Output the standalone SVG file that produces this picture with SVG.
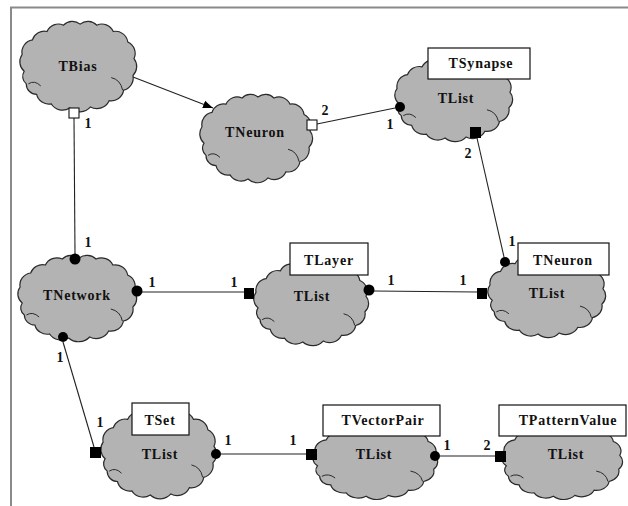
<svg xmlns="http://www.w3.org/2000/svg" xmlns:xlink="http://www.w3.org/1999/xlink" width="628" height="506" viewBox="0 0 628 506">
<style>
.cl{fill:#b3b3b3;stroke:#2a2a2a;stroke-width:1.2;vector-effect:non-scaling-stroke}
.curl{fill:none;stroke:#2a2a2a;stroke-width:1;vector-effect:non-scaling-stroke}
.box{fill:#fff;stroke:#111;stroke-width:1.2}
text{font-family:'Liberation Serif','Times New Roman',serif;font-weight:bold;font-size:14px;fill:#111;text-anchor:middle}
.t{letter-spacing:0.8px}
.ln{stroke:#222;stroke-width:1.1;fill:none}
.ws{fill:#fff;stroke:#111;stroke-width:1.1}
.bs{fill:#000}
.frame{stroke:#8a8a8a;stroke-width:2;fill:none}
</style>
<defs>
<g id="cloud">
<path class="cl" d="M8,50 A12,12 0 0 1 6,34 A12,12 0 0 1 16,20 A12,12 0 0 1 30,12 A12,12 0 0 1 46,6 A12,12 0 0 1 62,5 A12,12 0 0 1 78,6 A12,12 0 0 1 94,12 A12,12 0 0 1 108,22 A12,12 0 0 1 114,38 A12,12 0 0 1 113,54 A12,12 0 0 1 104,68 A12,12 0 0 1 90,78 A13,13 0 0 1 72,84 A14,14 0 0 1 52,85 A13,13 0 0 1 34,81 A12,12 0 0 1 20,72 A10,10 0 0 1 10,62 A9,9 0 0 1 8,50 Z"/>
<path class="curl" d="M92,56 Q101,58 103,68"/>
<path class="curl" d="M12,62 Q18,58 24,64"/>
</g>
<marker id="arr" viewBox="0 0 10 10" refX="10" refY="5" markerWidth="10" markerHeight="10" markerUnits="userSpaceOnUse" orient="auto">
<path d="M0,1 L10,5 L0,9 Z" fill="#000"/>
</marker>
</defs>
<path class="frame" d="M11,506 L11,7.5 L628,7.5"/>

<g id="TBias">
<use xlink:href="#cloud" href="#cloud" transform="translate(15.9,18.9) scale(1.036,1.048)"/>
<text class="t" x="78" y="71">TBias</text>
</g>
<g id="TNeuron">
<use xlink:href="#cloud" href="#cloud" transform="translate(196,91.9) scale(1.0,1.024)"/>
<text class="t" x="255" y="137">TNeuron</text>
</g>
<g id="TSynapseList">
<use xlink:href="#cloud" href="#cloud" transform="translate(390.8,55.1) scale(1.045,0.976)"/>
<rect class="box" x="428" y="48" width="102" height="31"/>
<text class="t" x="481" y="68">TSynapse</text>
<text class="t" x="456" y="103">TList</text>
</g>
<g id="TNetwork">
<use xlink:href="#cloud" href="#cloud" transform="translate(13.8,253) scale(1.054,1.0)"/>
<text class="t" x="77" y="300">TNetwork</text>
</g>
<g id="TLayerList">
<use xlink:href="#cloud" href="#cloud" transform="translate(249.9,259.1) scale(1.018,0.976)"/>
<rect class="box" x="290" y="243" width="78" height="32"/>
<text class="t" x="329" y="265">TLayer</text>
<text class="t" x="312" y="301">TList</text>
</g>
<g id="TNeuronList">
<use xlink:href="#cloud" href="#cloud" transform="translate(483.8,252.1) scale(1.045,0.964)"/>
<rect class="box" x="518" y="243" width="91" height="32"/>
<text class="t" x="563" y="265">TNeuron</text>
<text class="t" x="547" y="298">TList</text>
</g>
<g id="TSetList">
<use xlink:href="#cloud" href="#cloud" transform="translate(96.9,406.9) scale(1.027,1.036)"/>
<rect class="box" x="132" y="403" width="57" height="32"/>
<text class="t" x="160" y="425">TSet</text>
<text class="t" x="160" y="459">TList</text>
</g>
<g id="TVectorPairList">
<use xlink:href="#cloud" href="#cloud" transform="translate(308.6,422.4) scale(1.107,0.869)"/>
<rect class="box" x="323" y="405" width="117" height="31"/>
<text class="t" x="383" y="425">TVectorPair</text>
<text class="t" x="374" y="459">TList</text>
</g>
<g id="TPatternValueList">
<use xlink:href="#cloud" href="#cloud" transform="translate(497.7,422.4) scale(1.071,0.869)"/>
<rect class="box" x="499" y="405" width="127" height="31"/>
<text class="t" x="568" y="425">TPatternValue</text>
<text class="t" x="566" y="459">TList</text>
</g>

<g id="connectors">
<line class="ln" x1="74" y1="118" x2="75" y2="254"/>
<line class="ln" x1="133" y1="77" x2="213" y2="108" marker-end="url(#arr)"/>
<line class="ln" x1="317" y1="124" x2="395" y2="108"/>
<line class="ln" x1="477" y1="138" x2="504" y2="257"/>
<line class="ln" x1="142" y1="292" x2="244" y2="292"/>
<line class="ln" x1="374" y1="291" x2="477" y2="292"/>
<line class="ln" x1="63" y1="342" x2="94" y2="447"/>
<line class="ln" x1="221" y1="454" x2="306" y2="454"/>
<line class="ln" x1="440" y1="456" x2="495" y2="456"/>

<rect class="ws" x="69" y="108" width="10" height="10"/>
<rect class="ws" x="307" y="120" width="10" height="10"/>
<circle class="bs" cx="400" cy="107" r="5"/>
<rect class="bs" x="470" y="127" width="11" height="11"/>
<circle class="bs" cx="505" cy="262" r="5"/>
<circle class="bs" cx="75" cy="259" r="5.5"/>
<circle class="bs" cx="137" cy="291" r="5.5"/>
<rect class="bs" x="244" y="288" width="10" height="11"/>
<circle class="bs" cx="369" cy="290" r="5.5"/>
<rect class="bs" x="477" y="288" width="10" height="11"/>
<circle class="bs" cx="63" cy="337" r="5"/>
<rect class="bs" x="90" y="447" width="11" height="11"/>
<circle class="bs" cx="216" cy="454" r="5"/>
<rect class="bs" x="306" y="449" width="11" height="11"/>
<circle class="bs" cx="435" cy="456" r="5"/>
<rect class="bs" x="495" y="451" width="11" height="11"/>

<text x="88" y="128">1</text>
<text x="325" y="115">2</text>
<text x="390" y="129">1</text>
<text x="468" y="158">2</text>
<text x="512" y="246">1</text>
<text x="88" y="247">1</text>
<text x="152" y="287">1</text>
<text x="234" y="287">1</text>
<text x="391" y="285">1</text>
<text x="463" y="285">1</text>
<text x="60" y="362">1</text>
<text x="100" y="427">1</text>
<text x="228" y="445">1</text>
<text x="293" y="445">1</text>
<text x="447" y="450">1</text>
<text x="487" y="450">2</text>
</g>
</svg>
